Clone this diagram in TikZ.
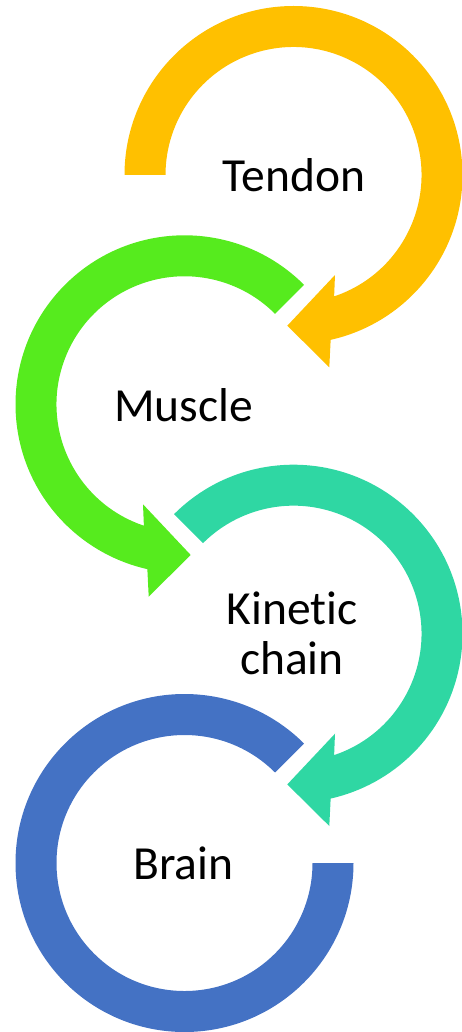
\documentclass[tikz,border=0pt]{standalone}
\usepackage{fontspec}
\setmainfont[Ligatures=NoCommon]{Carlito}
\definecolor{tendonc}{HTML}{FFC000}
\definecolor{musclec}{HTML}{56EB1E}
\definecolor{kineticc}{HTML}{2FD7A3}
\definecolor{brainc}{HTML}{4472C4}
\begin{document}
\begin{tikzpicture}[x=1pt,y=-1pt,
  label/.style={font=\fontsize{47.5}{50}\selectfont, align=center, inner sep=0pt, text=black}]
\useasboundingbox (0,0) rectangle (462,1032);

% Tendon: ring opening on the left, arrow turning clockwise
\begin{scope}[shift={(293.5,175)}]
  \fill[tendonc] (180:169) arc[start angle=180, end angle=437.3, radius=169]
    -- (35.8,192.3) -- (-6.2,150.7) -- (41.5,100) -- (40.5,124.3)
    -- (432:128) arc[start angle=432, end angle=180, radius=128] -- cycle;
  \node[label] (tendon) at (0.5,0.5) {Tendon};
\end{scope}

% Muscle: mirrored arrow turning anticlockwise
\begin{scope}[shift={(184.5,404.3)}]
  \fill[musclec] (315:169) arc[start angle=315, end angle=102.7, radius=169]
    -- (-35.8,192.3) -- (6.2,150.7) -- (-41.5,100) -- (-40.5,124.3)
    -- (108:128) arc[start angle=108, end angle=315, radius=128] -- cycle;
  \node[label] (muscle) at (-1,0.5) {Muscle};
\end{scope}

% Kinetic chain
\begin{scope}[shift={(293.5,633.7)}]
  \fill[kineticc] (225:169) arc[start angle=225, end angle=437.3, radius=169]
    -- (35.8,192.3) -- (-6.2,150.7) -- (41.5,100) -- (40.5,124.3)
    -- (432:128) arc[start angle=432, end angle=225, radius=128] -- cycle;
  \node[label] (kinetic) at (-1.5,0) {Kinetic\\chain};
\end{scope}

% Brain: open ring without arrowhead
\begin{scope}[shift={(184.5,863)}]
  \fill[brainc] (0:169) arc[start angle=0, end angle=315, radius=169]
    -- (315:128) arc[start angle=315, end angle=0, radius=128] -- cycle;
  \node[label] (brain) at (-1,0.5) {Brain};
\end{scope}
\end{tikzpicture}
\end{document}
